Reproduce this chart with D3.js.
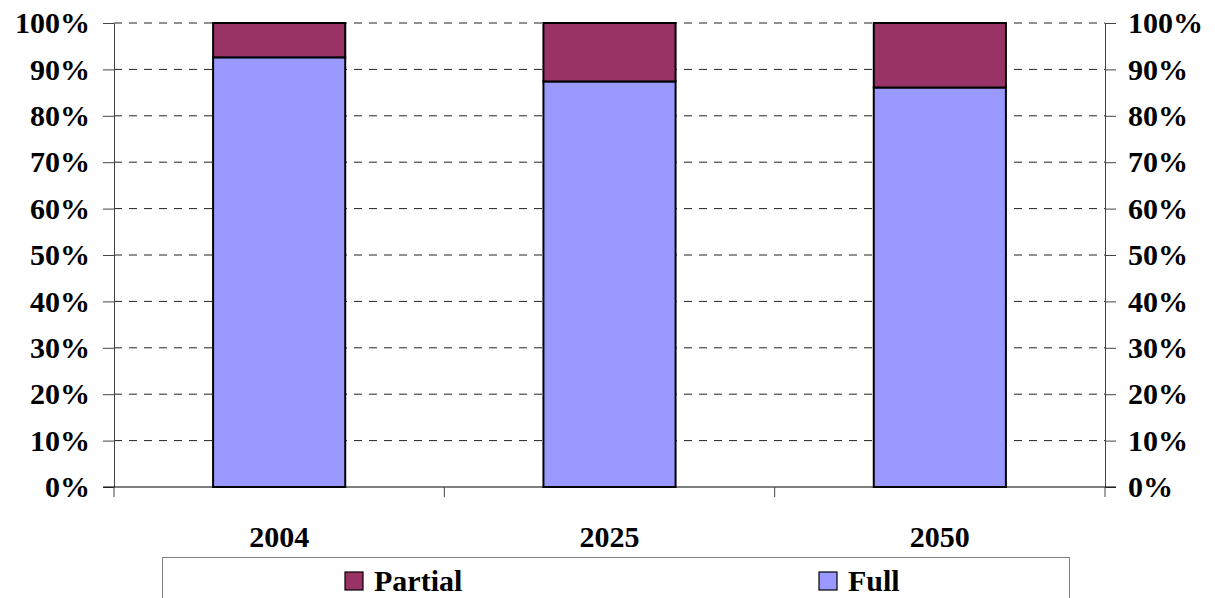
<!DOCTYPE html>
<meta charset="utf-8">
<style type="text/css">
body { margin: 0; background: #fff; }
.grid line { stroke: #222; stroke-width: 1; stroke-dasharray: 8,7; }
.axis text { font-family: "Liberation Serif", "Times New Roman", serif; font-weight: bold; font-size: 30px; fill: #000; }
.axis line, .axis path { stroke: #444; }
</style>
<body>
<script src="https://d3js.org/d3.v7.min.js"></script>
<script>

// chart values
var years = ["2004", "2025", "2050"];
var full = [92.6, 87.4, 86.1];
var partial = [7.4, 12.6, 13.9];
var seriesNames = ["Partial", "Full"];
var seriesColors = {"Partial": "#993366", "Full": "#9999FF"};
var yTicks = [0, 10, 20, 30, 40, 50, 60, 70, 80, 90, 100];

var width = 1215, height = 598;
var plotLeft = 114, plotRight = 1105, plotTop = 23, plotBottom = 487;

var svg = d3.select("body").append("svg")
    .attr("width", width)
    .attr("height", height);

var x = d3.scaleBand()
    .domain(years)
    .range([plotLeft, plotRight])
    .paddingInner(0.6)
    .paddingOuter(0.3);

var y = d3.scaleLinear()
    .domain([0, 100])
    .range([plotBottom, plotTop]);

// dashed gridlines
svg.append("g")
    .attr("class", "grid")
  .selectAll("line")
    .data(yTicks.filter(function(d) { return d > 0; }))
  .enter().append("line")
    .attr("x1", plotLeft)
    .attr("x2", plotRight)
    .attr("y1", function(d) { return y(d); })
    .attr("y2", function(d) { return y(d); });

// stacked bars
var table = years.map(function(yr, i) { return {year: yr, Full: full[i], Partial: partial[i]}; });
var stack = d3.stack().keys(["Full", "Partial"]);

svg.append("g").selectAll("g")
    .data(stack(table))
  .enter().append("g")
    .attr("fill", function(d) { return seriesColors[d.key]; })
  .selectAll("rect")
    .data(function(d) { return d; })
  .enter().append("rect")
    .attr("x", function(d) { return x(d.data.year); })
    .attr("width", x.bandwidth())
    .attr("y", function(d) { return y(d[1]); })
    .attr("height", function(d) { return y(d[0]) - y(d[1]); })
    .attr("stroke", "#000")
    .attr("stroke-width", 2);

// left and right axes
svg.append("g")
    .attr("class", "axis")
    .attr("transform", "translate(" + plotLeft + ",0)")
    .call(d3.axisLeft(y).tickValues(yTicks).tickFormat(function(d) { return d + "%"; })
      .tickSize(11).tickSizeOuter(0).tickPadding(13));

svg.append("g")
    .attr("class", "axis")
    .attr("transform", "translate(" + plotRight + ",0)")
    .call(d3.axisRight(y).tickValues(yTicks).tickFormat(function(d) { return d + "%"; })
      .tickSize(11).tickSizeOuter(0).tickPadding(12));

// category axis along the bottom
var step = x.step();
var x0 = x.range()[0];
var catTicks = d3.range(years.length + 1).map(function(i) { return x0 + i * step; });

svg.append("line")
    .attr("x1", plotLeft - 11)
    .attr("x2", plotRight + 11)
    .attr("y1", y(0))
    .attr("y2", y(0))
    .attr("stroke", "#000")
    .attr("stroke-width", 1.2);

svg.append("g").selectAll("line")
    .data(catTicks)
  .enter().append("line")
    .attr("x1", function(d) { return d; })
    .attr("x2", function(d) { return d; })
    .attr("y1", y(0))
    .attr("y2", y(0) + 10)
    .attr("stroke", "#444");

svg.append("g")
    .attr("class", "axis")
  .selectAll("text")
    .data(years)
  .enter().append("text")
    .attr("x", function(d) { return x(d) + x.bandwidth() / 2; })
    .attr("y", 547)
    .attr("text-anchor", "middle")
    .text(function(d) { return d; });

// legend
var legend = svg.append("g").attr("class", "axis");
legend.append("rect")
    .attr("x", 162.5)
    .attr("y", 557.5)
    .attr("width", 907)
    .attr("height", 60)
    .attr("fill", "#fff")
    .attr("stroke", "#808080");

var legendX = {"Partial": 345, "Full": 819};
var items = legend.selectAll("g.item")
    .data(seriesNames)
  .enter().append("g")
    .attr("class", "item")
    .attr("transform", function(d) { return "translate(" + legendX[d] + ",572)"; });

items.append("rect")
    .attr("width", 18)
    .attr("height", 18)
    .attr("fill", function(d) { return seriesColors[d]; })
    .attr("stroke", "#000")
    .attr("stroke-width", 1.2);

items.append("text")
    .attr("x", 29)
    .attr("y", 19)
    .text(function(d) { return d; });

</script>
</body>
